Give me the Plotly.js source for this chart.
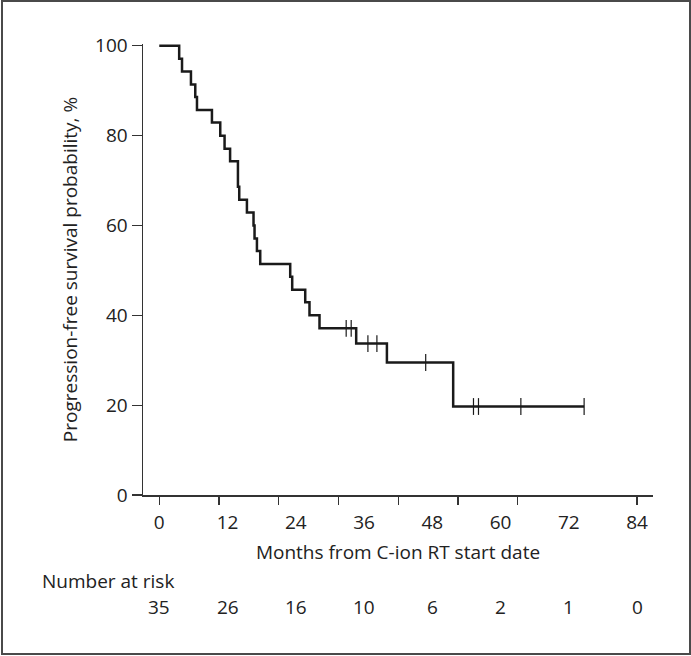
<!DOCTYPE html>
<html>
<head>
<meta charset="utf-8">
<script src="https://cdn.plot.ly/plotly-3.0.1.min.js"></script>
<style>
html,body{margin:0;padding:0;background:#fff;}
#wrap{position:relative;width:691px;height:656px;}
#chart{width:691px;height:656px;}
#frame{position:absolute;left:1px;top:0px;width:686px;height:651px;border:2px solid #4a4a4a;pointer-events:none;}
</style>
</head>
<body>
<div id="wrap"><div id="chart"></div><div id="frame"></div></div>
<script>
// Kaplan-Meier step data (months, survival %)
const eventTimes = [0, 3.5, 4.0, 5.57, 6.33, 6.63, 9.26, 10.72, 11.48, 12.45, 13.83, 14.06, 15.41, 16.57, 16.75, 17.17, 17.75, 23.02, 23.37, 25.66, 26.41, 28.17, 34.62, 40.02, 51.67, 74.69];
const survival   = [100, 97.1, 94.3, 91.4, 88.6, 85.7, 82.9, 80.0, 77.1, 74.3, 68.6, 65.7, 62.9, 60.0, 57.1, 54.3, 51.4, 48.6, 45.7, 42.9, 40.0, 37.1, 33.7, 29.5, 19.7, 19.7];
// Censored observations (months)
const censorTimes = [32.86, 33.74, 36.68, 38.26, 46.84, 55.24, 56.12, 63.57, 74.69];
// Axis ticks
const xTickVals = [0, 12, 24, 36, 48, 60, 72, 84];
const xTickMarks = [0, 10.5, 21, 31.5, 42, 52.5, 63, 84];
const yTickVals = [0, 20, 40, 60, 80, 100];
// Number at risk
const riskTimes = [0, 12, 24, 36, 48, 60, 72, 84];
const riskCounts = [35, 26, 16, 10, 6, 2, 1, 0];

function survAt(t){
  let s = survival[0];
  for (let i = 0; i < eventTimes.length; i++){ if (eventTimes[i] <= t) s = survival[i]; }
  return s;
}
const censorSurv = censorTimes.map(survAt);

const FONT = '"Open Sans", "Noto Sans", sans-serif';
const TXT = '#222';
const FS = 19;
const xr = [-2.86, 86.8];

const traces = [
  {x: eventTimes, y: survival, type: 'scatter', mode: 'lines', line: {shape: 'hv', color: '#1a1a1a', width: 2.5}, hoverinfo: 'skip', cliponaxis: false},
  {x: censorTimes, y: censorSurv, type: 'scatter', mode: 'markers', xaxis: 'x2', marker: {symbol: 'line-ns', size: 12, line: {width: 1.2, color: '#1a1a1a'}}, hoverinfo: 'skip', cliponaxis: false}
];

const annotations = [
  {text: 'Number at risk', xref: 'paper', yref: 'paper', x: -0.202, y: -0.1907, xanchor: 'left', yanchor: 'middle', showarrow: false, font: {family: FONT, size: FS, color: TXT}}
];
riskTimes.forEach((t, i) => {
  annotations.push({text: String(riskCounts[i]), xref: 'x', yref: 'paper', x: t, y: -0.248, xanchor: 'center', yanchor: 'middle', showarrow: false, font: {family: FONT, size: FS, color: TXT}});
});

const layout = {
  width: 691, height: 656,
  margin: {l: 143, r: 38, t: 44, b: 161, pad: 0},
  paper_bgcolor: '#fff', plot_bgcolor: '#fff',
  showlegend: false,
  font: {family: FONT, size: FS, color: TXT},
  xaxis: {
    range: xr, tickmode: 'array', tickvals: xTickVals, ticks: '', showline: true, linecolor: '#333', linewidth: 1.5,
    showgrid: false, zeroline: false, ticklabelstandoff: 10,
    tickfont: {family: FONT, size: FS, color: TXT},
    title: {text: 'Months from C-ion RT start date', font: {family: FONT, size: FS, color: TXT}, standoff: 11}
  },
  xaxis2: {
    range: xr, overlaying: 'x', anchor: 'y', side: 'bottom', tickmode: 'array', tickvals: xTickMarks,
    ticks: 'outside', ticklen: 9, tickwidth: 1.3, tickcolor: '#333', showticklabels: false, showline: false, showgrid: false, zeroline: false
  },
  yaxis: {
    range: [0, 100.4], tickmode: 'array', tickvals: yTickVals, ticks: 'outside', ticklen: 10, tickwidth: 1.3, tickcolor: '#333',
    showline: true, linecolor: '#333', linewidth: 1.5, showgrid: false, zeroline: false,
    tickfont: {family: FONT, size: FS, color: TXT},
    title: {text: 'Progression-free survival probability, %', font: {family: FONT, size: FS, color: TXT}, standoff: 12}
  },
  annotations: annotations
};

Plotly.newPlot('chart', traces, layout, {displayModeBar: false, staticPlot: true});
</script>
</body>
</html>
